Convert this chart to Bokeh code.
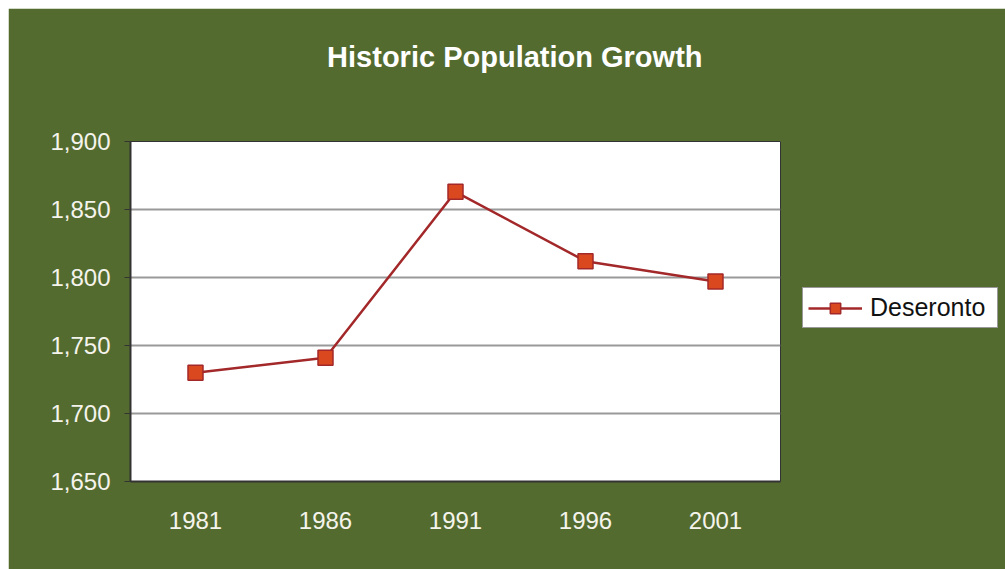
from bokeh.plotting import figure
from bokeh.models import ColumnDataSource, Legend, LegendItem, NumeralTickFormatter, Spacer, FixedTicker, Title
from bokeh.layouts import column, row
from bokeh.embed import file_html
from bokeh.resources import INLINE

years = ["1981", "1986", "1991", "1996", "2001"]
population = [1730, 1741, 1863, 1812, 1797]
series_name = "Deseronto"
title_text = "Historic Population Growth"
y_ticks = [1650, 1700, 1750, 1800, 1850, 1900]

GREEN = "#546b2f"
FONT = "Liberation Sans"

src = ColumnDataSource(dict(year=years, pop=population))

p = figure(x_range=years, y_range=(1650, 1900), title=None,
           frame_width=650, frame_height=340,
           min_border_left=122, min_border_right=225,
           min_border_top=133, min_border_bottom=88,
           output_backend="svg", toolbar_location=None,
           background_fill_color="white", border_fill_color=GREEN,
           outline_line_color="#333333")

# spacer title (closest to the frame) then the real title above it
p.add_layout(Title(text=" ", text_font=FONT, text_font_size="55px", standoff=0,
                   text_color=GREEN), "above")
p.add_layout(Title(text=title_text, text_font=FONT, text_font_size="29px",
                   text_font_style="bold", text_color="white",
                   align="right", offset=78, standoff=10), "above")

r_line = p.line("year", "pop", source=src, line_color="#a3282a", line_width=2.5)
r_pts = p.scatter("year", "pop", source=src, marker="square", size=15,
                  fill_color="#d9481e", line_color="#a3282a", line_width=1.5)

# axes
p.yaxis.ticker = FixedTicker(ticks=y_ticks)
p.yaxis.formatter = NumeralTickFormatter(format="0,0")
for ax in (p.xaxis[0], p.yaxis[0]):
    ax.axis_line_color = "#333333"
    ax.axis_line_width = 2
    ax.major_label_text_font = FONT
    ax.major_label_text_font_size = "24px"
    ax.major_label_text_color = "#f4f4ec"
    ax.minor_tick_line_color = None
p.yaxis.major_tick_line_color = "#333333"
p.yaxis.major_tick_out = 6
p.yaxis.major_tick_in = 0
p.yaxis.major_label_standoff = 14
p.xaxis.major_tick_line_color = None
p.xaxis.major_label_standoff = 24

p.xgrid.grid_line_color = None
p.ygrid.grid_line_color = "#999999"
p.ygrid.grid_line_width = 2

legend = Legend(items=[LegendItem(label=series_name, renderers=[r_line, r_pts])],
                location=(22, 153), orientation="vertical",
                label_text_font=FONT, label_text_font_size="25px",
                label_text_color="#111111",
                glyph_width=54, glyph_height=26, label_width=122, label_height=26,
                padding=5, margin=0, spacing=0, label_standoff=8,
                border_line_color="#333333", border_line_width=1,
                background_fill_color="white", background_fill_alpha=1.0)
p.add_layout(legend, "right")

layout = column(Spacer(height=8), row(Spacer(width=8), p))

open("out.html", "w").write(file_html(layout, INLINE))
